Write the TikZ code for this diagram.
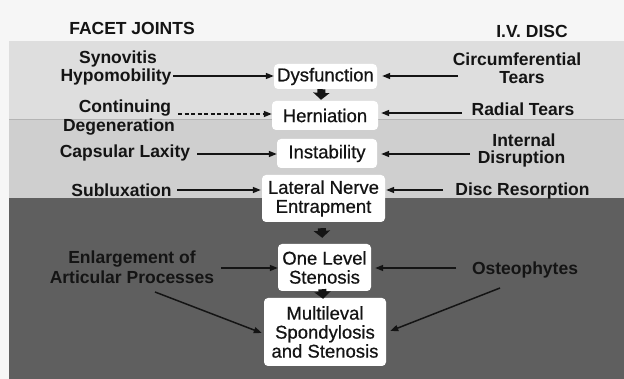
\documentclass[tikz,border=0pt]{standalone}
\usepackage{fontspec}
\setmainfont{Liberation Sans}
\newfontfamily\stagefont{Liberation Sans}[FakeBold=0.6]
\usetikzlibrary{arrows.meta,calc}
\definecolor{bgw}{HTML}{F6F6F6}
\definecolor{bandA}{HTML}{DEDEDE}
\definecolor{bandB}{HTML}{CFCFCF}
\definecolor{bandC}{HTML}{5F5F5F}
\definecolor{bandline}{HTML}{B4B4B4}
\definecolor{ink}{HTML}{141414}
\tikzset{
 lab/.style={font=\bfseries\fontsize{17.5}{17.5}\selectfont, text=ink, inner sep=0pt},
 stage/.style={fill=white, rounded corners=4pt, font=\stagefont\fontsize{18.5}{19}\selectfont, text=ink, align=center, inner sep=0pt},
 arr/.style={draw=ink, line width=1.5pt, -{Triangle[length=8pt,width=6pt]}},
 darr/.style={arr, dash pattern=on 4pt off 2.5pt},
 downarr/.style={draw=ink, line width=8pt, -{Triangle[length=7pt,width=16pt]}},
}
\begin{document}
\begin{tikzpicture}[x=1pt,y=-1pt]
\useasboundingbox (0,0) rectangle (624,379);
% background bands
\fill[bgw] (0,0) rectangle (624,379);
\fill[bandA] (9,41) rectangle (624,119);
\fill[bandB] (9,119) rectangle (624,198);
\fill[bandC] (9,198) rectangle (624,379);
\draw[bandline, line width=0.8pt] (9,119) -- (624,119);

% headings
\node[lab] (facet) at (132,28) {FACET JOINTS};
\node[lab] (ivd) at (532,31) {I.V. DISC};

% central stages
\node[stage, minimum width=103pt, minimum height=25pt] (dys) at (325.5,76.5) {Dysfunction};
\node[stage, minimum width=106pt, minimum height=29pt] (her) at (325,115.5) {Herniation};
\node[stage, minimum width=100pt, minimum height=29pt] (ins) at (327,153.5) {Instability};
\node[stage, minimum width=123pt, minimum height=47pt] (lat) at (323.5,198.5) {Lateral Nerve\\Entrapment};
\node[stage, minimum width=93pt, minimum height=47pt] (one) at (324.5,267.5) {One Level\\Stenosis};
\node[stage, minimum width=122pt, minimum height=68pt] (mul) at (325,332) {Multileval\\Spondylosis\\and Stenosis};

% facet-joint labels
\node[lab] (syn) at (118,59) {Synovitis};
\node[lab] (hyp) at (116,77) {Hypomobility};
\node[lab] (con) at (125,108) {Continuing};
\node[lab] (deg) at (119,127) {Degeneration};
\node[lab] (cap) at (125,153) {Capsular Laxity};
\node[lab] (sub) at (121.5,190) {Subluxation};
\node[lab] (enl) at (132,259) {Enlargement of};
\node[lab] (art) at (132,277) {Articular Processes};

% disc labels
\node[lab] (cir) at (517,59) {Circumferential};
\node[lab] (tea) at (522,78) {Tears};
\node[lab] (rad) at (523,109) {Radial Tears};
\node[lab] (int) at (524,140) {Internal};
\node[lab] (dis) at (521.5,159) {Disruption};
\node[lab] (res) at (522.5,191) {Disc Resorption};
\node[lab] (ost) at (525,270) {Osteophytes};

% free ends
\coordinate (a1) at (173,76);
\coordinate (a2) at (178,114);
\coordinate (a3) at (197,154);
\coordinate (a4) at (177,190);
\coordinate (a5) at (221,268);
\coordinate (a6) at (155,292);
\coordinate (b1) at (458,76);
\coordinate (b2) at (462,113);
\coordinate (b3) at (470,154);
\coordinate (b4) at (443,190);
\coordinate (b5) at (456,268);
\coordinate (b6) at (500,288);

% left arrows
\draw[arr] (a1) -- (a1 -| dys.west);
\draw[darr] (a2) -- (a2 -| her.west);
\draw[arr] (a3) -- (a3 -| ins.west);
\draw[arr, shorten >=1pt] (a4) -- (a4 -| lat.west);
\draw[arr] (a5) -- (a5 -| one.west);
\draw[arr] (a6) -- ($(mul.west)+(-2,1)$);

% right arrows
\draw[arr, shorten >=5pt] (b1) -- (b1 -| dys.east);
\draw[arr, shorten >=3pt] (b2) -- (b2 -| her.east);
\draw[arr, shorten >=4pt] (b3) -- (b3 -| ins.east);
\draw[arr, shorten >=1pt] (b4) -- (b4 -| lat.east);
\draw[arr, shorten >=4pt] (b5) -- (b5 -| one.east);
\draw[arr] (b6) -- ($(mul.east)+(4,-1)$);

% downward arrows between stages
\draw[downarr, shorten >=1pt] ($(dys.south)+(-4,0)$) -- ($(her.north)+(-4,0)$);
\draw[downarr, shorten <=6pt, shorten >=6pt] ($(lat.south)+(-2,0)$) -- ($(one.north)+(-2,0)$);
\draw[downarr, shorten <=-2pt, shorten >=-1pt] ($(one.south)+(-2,0)$) -- ($(mul.north)+(-2,0)$);
\end{tikzpicture}
\end{document}
